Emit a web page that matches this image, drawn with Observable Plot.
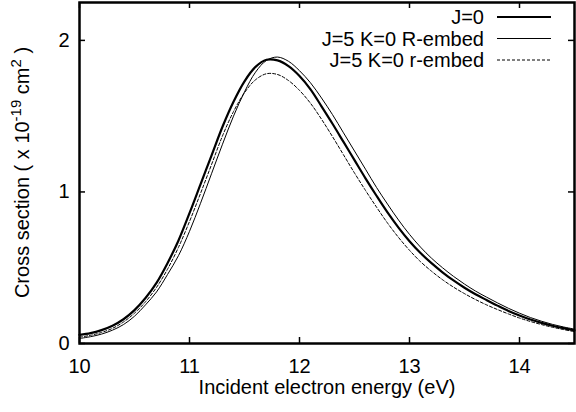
<!DOCTYPE html>
<html>
<head>
<meta charset="utf-8">
<script src="https://cdn.jsdelivr.net/npm/d3@7"></script>
<script src="https://cdn.jsdelivr.net/npm/@observablehq/plot@0.6"></script>
<style>
  html, body { margin: 0; padding: 0; background: white; }
</style>
</head>
<body>
<div id="chart"></div>
<script>
// Incident electron energy (eV)
const energy = [10.0, 10.1, 10.2, 10.3, 10.4, 10.5, 10.6, 10.7, 10.8, 10.9,
                11.0, 11.1, 11.2, 11.3, 11.4, 11.5, 11.6, 11.7, 11.8, 11.9,
                12.0, 12.1, 12.2, 12.3, 12.4, 12.5, 12.6, 12.7, 12.8, 12.9,
                13.0, 13.1, 13.2, 13.3, 13.4, 13.5, 13.6, 13.7, 13.8, 13.9,
                14.0, 14.1, 14.2, 14.3, 14.4, 14.5];
// Cross section (x 1e-19 cm^2)
const j0 = [0.057, 0.068, 0.088, 0.117, 0.16, 0.22, 0.30, 0.40, 0.53, 0.68,
            0.86, 1.05, 1.24, 1.43, 1.595, 1.73, 1.825, 1.872, 1.868, 1.83,
            1.765, 1.677, 1.565, 1.45, 1.33, 1.21, 1.09, 0.975, 0.865, 0.765,
            0.675, 0.597, 0.53, 0.47, 0.416, 0.368, 0.325, 0.287, 0.25, 0.215,
            0.185, 0.158, 0.136, 0.117, 0.101, 0.087];
const j5REmbed = [0.033, 0.045, 0.062, 0.088, 0.125, 0.18, 0.255, 0.34, 0.455, 0.58,
                  0.74, 0.925, 1.12, 1.315, 1.50, 1.66, 1.79, 1.868, 1.89, 1.862,
                  1.80, 1.72, 1.62, 1.51, 1.39, 1.27, 1.15, 1.03, 0.92, 0.815,
                  0.72, 0.636, 0.563, 0.50, 0.443, 0.392, 0.346, 0.306, 0.268, 0.232,
                  0.20, 0.171, 0.147, 0.126, 0.109, 0.095];
const j5rEmbed = [0.042, 0.054, 0.073, 0.10, 0.142, 0.20, 0.275, 0.37, 0.49, 0.635,
                  0.805, 0.99, 1.18, 1.37, 1.53, 1.655, 1.74, 1.78, 1.775, 1.735,
                  1.67, 1.585, 1.48, 1.365, 1.245, 1.125, 1.01, 0.90, 0.795, 0.70,
                  0.615, 0.54, 0.477, 0.421, 0.372, 0.329, 0.29, 0.255, 0.224, 0.195,
                  0.168, 0.145, 0.125, 0.107, 0.092, 0.078];
const seriesNames = ["J=0", "J=5 K=0 R-embed", "J=5 K=0 r-embed"];
const xTicks = [10, 11, 12, 13, 14];
const yTicks = [0, 1, 2];
const xLabel = "Incident electron energy (eV)";
const yLabelParts = ["Cross section ( x 10", "-19", " cm", "2", " )"];

const seriesValues = [j0, j5REmbed, j5rEmbed];
const styles = [
  {strokeWidth: 2.2, dash: null},
  {strokeWidth: 1, dash: null},
  {strokeWidth: 1, dash: "3,2"}
];
const data = seriesNames.map((name, i) => energy.map((e, k) => ({series: name, energy: e, value: seriesValues[i][k]})));

const FONT = "'Liberation Sans', Arial, Helvetica, sans-serif";
const FS = 20;
const W = 576, H = 412;
const mL = 79, mR = 2, mT = 2, mB = 69;
const frameW = W - mL - mR, frameH = H - mT - mB;
const tickLen = 6;

function overlay(index, scales, values, dims) {
  const g = d3.create("svg:g");
  const right = dims.width - dims.marginRight;
  // legend
  seriesNames.forEach((name, i) => {
    const cy = dims.marginTop + 15 + i * 21.5;
    g.append("text")
      .attr("x", right - 90).attr("y", cy + FS * 0.36)
      .attr("text-anchor", "end")
      .attr("font-family", FONT).attr("font-size", FS)
      .attr("fill", "black")
      .text(name);
    g.append("line")
      .attr("x1", right - 77).attr("x2", right - 23)
      .attr("y1", cy).attr("y2", cy)
      .attr("stroke", "black")
      .attr("stroke-width", styles[i].strokeWidth)
      .attr("stroke-dasharray", styles[i].dash);
  });
  // y axis label with superscripts
  const cyMid = (dims.marginTop + dims.height - dims.marginBottom) / 2;
  const t = g.append("text")
    .attr("transform", `translate(29,${cyMid}) rotate(-90)`)
    .attr("text-anchor", "middle")
    .attr("font-family", FONT).attr("font-size", FS)
    .attr("fill", "black");
  yLabelParts.forEach((p, i) => {
    const sup = i === 1 || i === 3;
    const ts = t.append("tspan").text(p);
    if (sup) ts.attr("font-size", FS * 0.75).attr("dy", -FS * 0.4);
    else if (i > 0) ts.attr("dy", FS * 0.4);
  });
  return g.node();
}

const chart = Plot.plot({
  width: W, height: H,
  marginLeft: mL, marginRight: mR, marginTop: mT, marginBottom: mB,
  style: {fontFamily: FONT, fontSize: FS + "px", color: "black", background: "white", overflow: "visible"},
  x: {domain: [10, 14.5]},
  y: {domain: [0, 2.25]},
  marks: [
    ...data.map((d, i) => Plot.line(d, {
      x: "energy", y: "value", curve: "catmull-rom",
      stroke: "black", strokeWidth: styles[i].strokeWidth,
      strokeDasharray: styles[i].dash || undefined
    })),
    // inward ticks on all four sides
    Plot.ruleX(xTicks, {x: d => d, insetTop: frameH - tickLen, stroke: "black", strokeWidth: 1.5}),
    Plot.ruleX(xTicks, {x: d => d, insetBottom: frameH - tickLen, stroke: "black", strokeWidth: 1.5}),
    Plot.ruleY(yTicks, {y: d => d, insetRight: frameW - tickLen, stroke: "black", strokeWidth: 1.5}),
    Plot.ruleY(yTicks, {y: d => d, insetLeft: frameW - tickLen, stroke: "black", strokeWidth: 1.5}),
    Plot.axisX(xTicks, {tickSize: 0, tickPadding: 15, label: null, fontSize: FS, tickFormat: d => String(d)}),
    Plot.axisY(yTicks, {tickSize: 0, tickPadding: 10, label: null, fontSize: FS, tickFormat: d => String(d)}),
    Plot.frame({stroke: "black", strokeWidth: 2.5}),
    Plot.text([xLabel], {text: d => d, frameAnchor: "bottom", dy: 50, fontSize: FS}),
    overlay
  ]
});
document.getElementById("chart").appendChild(chart);
</script>
</body>
</html>
